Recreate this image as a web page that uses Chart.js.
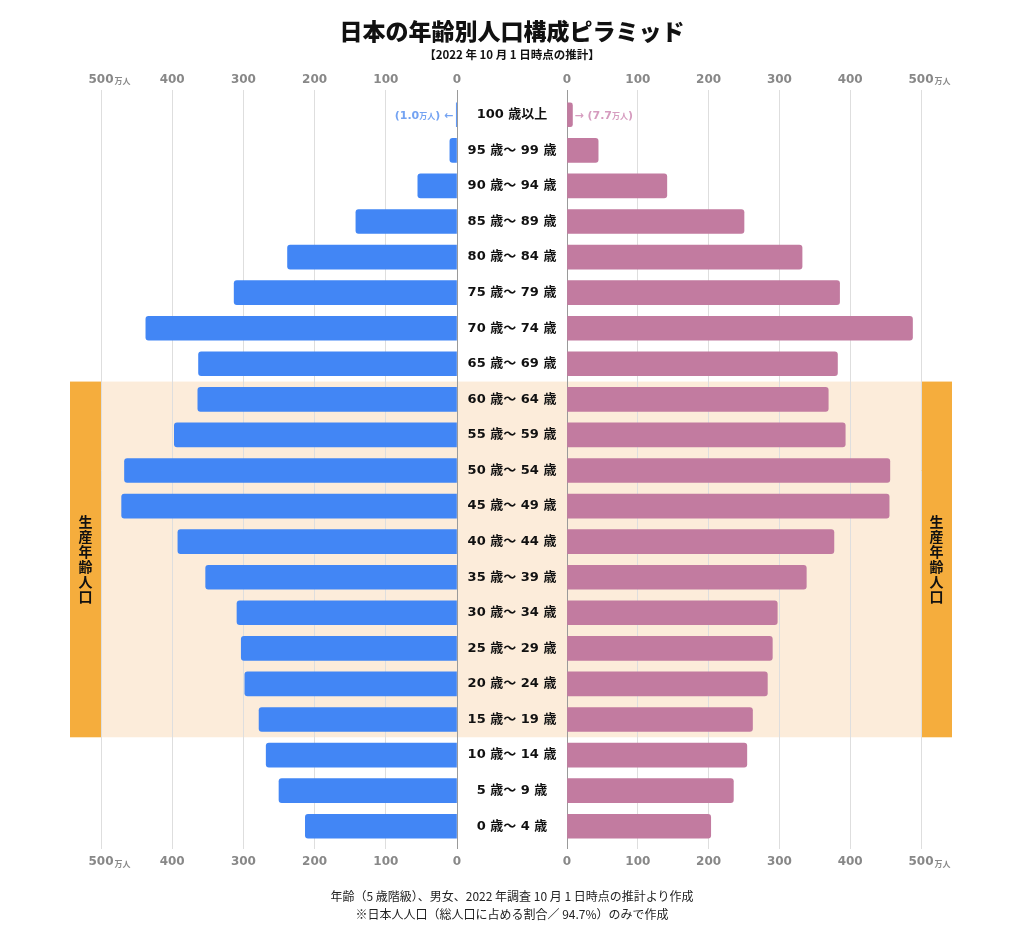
<!DOCTYPE html>
<html lang="ja">
<head>
<meta charset="utf-8">
<title>日本の年齢別人口構成ピラミッド</title>
<script src="https://cdn.jsdelivr.net/npm/chart.js@4.4.1/dist/chart.umd.min.js"></script>
<style>
html, body { margin: 0; padding: 0; background: #fff; }
#wrap { position: relative; width: 1024px; height: 951px; font-family: 'Noto Sans CJK JP', sans-serif; color: #111; }
#wrap canvas { position: absolute; left: 0; top: 0; }
.txt { position: absolute; left: 0; width: 1024px; text-align: center; }
.title { top: 16px; font-size: 23px; line-height: 28px; font-weight: 900; }
.sub { top: 46px; font-size: 11.5px; line-height: 16px; font-weight: 700; }
.note { top: 887px; font-size: 12px; line-height: 18px; color: #222; }
</style>
</head>
<body>
<div id="wrap">
  <canvas id="male" width="1024" height="951"></canvas>
  <canvas id="female" width="1024" height="951"></canvas>
  <div class="txt title">日本の年齢別人口構成ピラミッド</div>
  <div class="txt sub">【2022 年 10 月 1 日時点の推計】</div>
  <div class="txt note">年齢（5 歳階級）、男女、2022 年調査 10 月 1 日時点の推計より作成<br>※日本人人口（総人口に占める割合／ 94.7%）のみで作成</div>
</div>
<script>
// 単位：万人
var ageLabels = ['100 歳以上', '95 歳～ 99 歳', '90 歳～ 94 歳', '85 歳～ 89 歳', '80 歳～ 84 歳',
  '75 歳～ 79 歳', '70 歳～ 74 歳', '65 歳～ 69 歳', '60 歳～ 64 歳', '55 歳～ 59 歳', '50 歳～ 54 歳',
  '45 歳～ 49 歳', '40 歳～ 44 歳', '35 歳～ 39 歳', '30 歳～ 34 歳', '25 歳～ 29 歳', '20 歳～ 24 歳',
  '15 歳～ 19 歳', '10 歳～ 14 歳', '5 歳～ 9 歳', '0 歳～ 4 歳'];
var maleValues = [1.0, 10, 55, 142, 238, 313, 437, 363, 364, 397, 467, 471, 392, 353, 309, 303, 298, 278, 268, 250, 213];
var femaleValues = [7.7, 44, 141, 250, 332, 385, 488, 382, 369, 393, 456, 455, 377, 338, 297, 290, 283, 262, 254, 235, 203];
var tickValues = [0, 100, 200, 300, 400, 500];
var unitLabel = '万人';
var bandLabel = '生産年齢人口';
var bandRows = ['60 歳～ 64 歳', '15 歳～ 19 歳'];

var tickFont = { family: "'DejaVu Sans', 'Noto Sans CJK JP', sans-serif", size: 12, weight: 'bold' };
var ageFont = { family: "'DejaVu Sans', 'Noto Sans CJK JP', sans-serif", size: 13, weight: 'bold' };
var gridColor = function(c) { return c.tick && c.tick.value === 0 ? '#9a9a9a' : '#dedede'; };

// 中央ラベルの幅を測って中央寄せにする
var mctx = document.createElement('canvas').getContext('2d');
mctx.font = 'bold 13px ' + ageFont.family;
var widest = Math.max.apply(null, ageLabels.map(function(s) { return mctx.measureText(s).width; }));

function rowEdges(chart) {
  var y = chart.scales.y;
  var half = (y.getPixelForValue(1) - y.getPixelForValue(0)) / 2;
  return [y.getPixelForValue(ageLabels.indexOf(bandRows[0])) - half,
          y.getPixelForValue(ageLabels.indexOf(bandRows[1])) + half];
}

var bandPlugin = {
  id: 'band',
  beforeDraw: function(chart, args, opts) {
    var ctx = chart.ctx, a = chart.chartArea, e = rowEdges(chart);
    var x0, x1, sx;
    if (opts.side === 'left') { sx = a.left - 31; x0 = a.left; x1 = chart.scales.y.right; }
    else { x0 = a.left; x1 = a.right; sx = a.right; }
    ctx.save();
    ctx.fillStyle = '#fcecda';
    ctx.fillRect(x0, e[0], x1 - x0, e[1] - e[0]);
    ctx.fillStyle = '#f5ad3d';
    ctx.fillRect(sx, e[0], 31, e[1] - e[0]);
    ctx.fillStyle = '#111';
    ctx.font = "bold 14px 'Noto Sans CJK JP'";
    ctx.textAlign = 'center';
    ctx.textBaseline = 'middle';
    var chars = Array.from(bandLabel), cy = (e[0] + e[1]) / 2;
    chars.forEach(function(c, i) {
      ctx.fillText(c, sx + 15.5, cy + (i - (chars.length - 1) / 2) * 15);
    });
    ctx.restore();
  }
};

// 500 の横に小さく「万人」、100歳以上の注記
var extraPlugin = {
  id: 'extra',
  afterDatasetsDraw: function(chart, args, opts) {
    var ctx = chart.ctx, x = chart.scales.x, y = chart.scales.y;
    ctx.save();
    ctx.textBaseline = 'alphabetic';
    // 注記
    var v = opts.values[0], py = y.getPixelForValue(0) + 4, px = x.getPixelForValue(v);
    var parts = opts.side === 'left'
      ? [['(', 11], [v.toFixed(1), 11], [unitLabel, 8], [') ←', 11]]
      : [['→ (', 11], [v.toFixed(1), 11], [unitLabel, 8], [')', 11]];
    var total = 0;
    parts.forEach(function(p) { ctx.font = 'bold ' + p[1] + 'px ' + tickFont.family; p.push(ctx.measureText(p[0]).width); total += p[2]; });
    var cx = opts.side === 'left' ? px - 3 - total : px + 2;
    ctx.fillStyle = opts.noteColor;
    ctx.textAlign = 'left';
    parts.forEach(function(p) { ctx.font = 'bold ' + p[1] + 'px ' + tickFont.family; ctx.fillText(p[0], cx, py); cx += p[2]; });
    // 万人
    ['x', 'x2'].forEach(function(id) {
      var s = chart.scales[id];
      var lh = tickFont.size * 1.2;
      var ly = id === 'x2' ? s.bottom - 7 - 3 - lh / 2 : s.top + 5 + 6 + lh / 2;
      ctx.font = 'bold 12px ' + tickFont.family;
      var w = ctx.measureText('500').width;
      var tx = s.getPixelForValue(500) + w / 2 + 1;
      ctx.font = 'bold 8px ' + tickFont.family;
      ctx.fillStyle = '#888';
      ctx.fillText(unitLabel, tx, ly + 4.5);
    });
    ctx.restore();
  }
};

function xScales(reverse) {
  return {
    x: {
      type: 'linear', position: 'bottom', min: 0, max: 500, reverse: reverse,
      afterBuildTicks: function(s) { s.ticks = tickValues.map(function(v) { return { value: v }; }); },
      afterFit: function(s) { s.height = 30; },
      grid: { color: gridColor, tickLength: 5 },
      border: { display: false },
      ticks: { font: tickFont, color: '#888', padding: 6, maxRotation: 0 }
    },
    x2: {
      type: 'linear', position: 'top', min: 0, max: 500, reverse: reverse,
      afterBuildTicks: function(s) { s.ticks = tickValues.map(function(v) { return { value: v }; }); },
      afterFit: function(s) { s.height = 30; },
      grid: { color: gridColor, tickLength: 7, drawOnChartArea: false },
      border: { display: false },
      ticks: { font: tickFont, color: '#888', padding: 3, maxRotation: 0 }
    }
  };
}

var maleScales = xScales(true);
maleScales.y = {
  type: 'category', position: 'right', offset: true,
  afterFit: function(s) { s.width = 110; },
  grid: { display: false, drawTicks: false },
  border: { display: true, color: '#9a9a9a' },
  ticks: { font: ageFont, color: '#111', crossAlign: 'center', padding: 55 - widest / 2 }
};

new Chart('male', {
  type: 'bar',
  data: {
    labels: ageLabels,
    datasets: [{ label: '男性', data: maleValues, xAxisID: 'x', backgroundColor: '#4286f5', borderRadius: 3, barThickness: 24 }]
  },
  options: {
    indexAxis: 'y', responsive: false, animation: false, devicePixelRatio: 1,
    layout: { padding: { left: 101, right: 457, top: 67, bottom: 77 } },
    scales: maleScales,
    plugins: {
      legend: { display: false }, tooltip: { enabled: false },
      band: { side: 'left' },
      extra: { side: 'left', values: maleValues, noteColor: '#74a3f2' }
    }
  },
  plugins: [bandPlugin, extraPlugin]
});

var femaleScales = xScales(false);
femaleScales.y = {
  type: 'category', position: 'left', offset: true,
  afterFit: function(s) { s.width = 0; },
  grid: { display: false, drawTicks: false },
  border: { display: true, color: '#9a9a9a' },
  ticks: { display: false }
};

new Chart('female', {
  type: 'bar',
  data: {
    labels: ageLabels,
    datasets: [{ label: '女性', data: femaleValues, xAxisID: 'x', backgroundColor: '#c27ba0', borderRadius: 3, barThickness: 24 }]
  },
  options: {
    indexAxis: 'y', responsive: false, animation: false, devicePixelRatio: 1,
    layout: { padding: { left: 567, right: 103, top: 67, bottom: 77 } },
    scales: femaleScales,
    plugins: {
      legend: { display: false }, tooltip: { enabled: false },
      band: { side: 'right' },
      extra: { side: 'right', values: femaleValues, noteColor: '#d69cbf' }
    }
  },
  plugins: [bandPlugin, extraPlugin]
});
</script>
</body>
</html>
